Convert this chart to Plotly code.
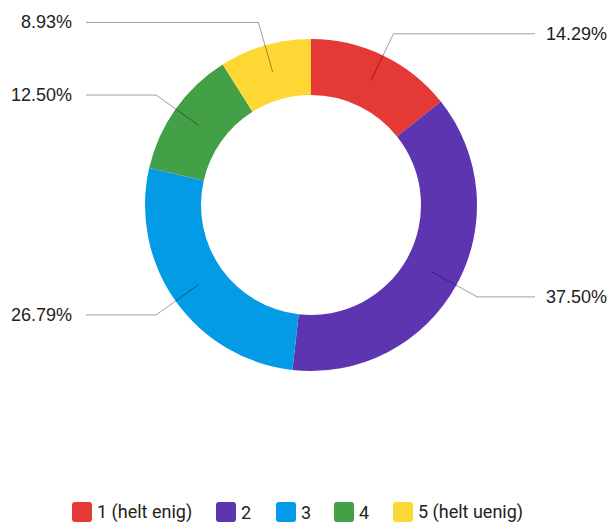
import numpy as np
import plotly.graph_objects as go

# Survey answers (share of respondents, %)
categories = ["1 (helt enig)", "2", "3", "4", "5 (helt uenig)"]
shares = [14.29, 37.50, 26.79, 12.50, 8.93]
colors = ["#e53935", "#5e35b1", "#039be5", "#43a047", "#fdd835"]

W, H = 612, 522
cx, cy = 311, 205          # donut centre in px
r_out, r_in = 166, 110      # outer / inner radius in px
r_mid, r_elbow = 138, 190   # leader line start / elbow radius
x_left_end, x_right_end = 86, 535

def px(x):
    return x / W

def py(y):
    return 1 - y / H

fig = go.Figure()
fig.add_trace(go.Pie(
    labels=categories,
    values=shares,
    marker=dict(colors=colors, line=dict(width=0)),
    hole=r_in / r_out,
    sort=False,
    direction="clockwise",
    rotation=0,
    textinfo="none",
    hoverinfo="label+percent",
    showlegend=False,
    domain=dict(x=[px(cx - r_out), px(cx + r_out)], y=[py(cy + r_out), py(cy - r_out)]),
))

shapes = []
annotations = []

# leader lines and percentage labels, placed at each slice's mid-angle
vals = np.array(shares)
cum = np.cumsum(vals) - vals / 2
mid_angles = np.deg2rad(cum / vals.sum() * 360)
line_col = "rgba(0,0,0,0.38)"
for val, ang in zip(shares, mid_angles):
    sx, sy = cx + r_mid * np.sin(ang), cy - r_mid * np.cos(ang)
    ex, ey = cx + r_elbow * np.sin(ang), cy - r_elbow * np.cos(ang)
    right = np.sin(ang) > 0
    hx = x_right_end if right else x_left_end
    path = f"M {px(sx)} {py(sy)} L {px(ex)} {py(ey)} L {px(hx)} {py(ey)}"
    shapes.append(dict(type="path", path=path, xref="paper", yref="paper",
                       line=dict(color=line_col, width=1)))
    annotations.append(dict(
        x=px(hx + 9 if right else hx - 12), y=py(ey), xref="paper", yref="paper",
        text=f"{val:.2f}%", showarrow=False,
        xanchor="left" if right else "right", yanchor="middle",
        font=dict(family="Liberation Sans, Arial, sans-serif", size=18, color="#222222"),
    ))

# custom legend along the bottom
legend_x = [72, 216, 276, 334, 393]
legend_y = 512
sw = 20
for name, col, lx in zip(categories, colors, legend_x):
    x0, x1 = lx, lx + sw
    y0, y1 = legend_y - sw / 2, legend_y + sw / 2
    rr = 3
    path = (f"M {px(x0 + rr)} {py(y0)} L {px(x1 - rr)} {py(y0)} "
            f"Q {px(x1)} {py(y0)} {px(x1)} {py(y0 + rr)} L {px(x1)} {py(y1 - rr)} "
            f"Q {px(x1)} {py(y1)} {px(x1 - rr)} {py(y1)} L {px(x0 + rr)} {py(y1)} "
            f"Q {px(x0)} {py(y1)} {px(x0)} {py(y1 - rr)} L {px(x0)} {py(y0 + rr)} "
            f"Q {px(x0)} {py(y0)} {px(x0 + rr)} {py(y0)} Z")
    shapes.append(dict(type="path", path=path, xref="paper", yref="paper",
                       fillcolor=col, line=dict(width=0)))
    annotations.append(dict(
        x=px(x1 + 3), y=py(legend_y), xref="paper", yref="paper",
        text=name, showarrow=False, xanchor="left", yanchor="middle",
        font=dict(family="Roboto, sans-serif", size=18, color="#222222"),
    ))

fig.update_layout(
    width=W, height=H,
    margin=dict(l=0, r=0, t=0, b=0),
    paper_bgcolor="white", plot_bgcolor="white",
    shapes=shapes, annotations=annotations,
)

fig.write_html("out.html")
